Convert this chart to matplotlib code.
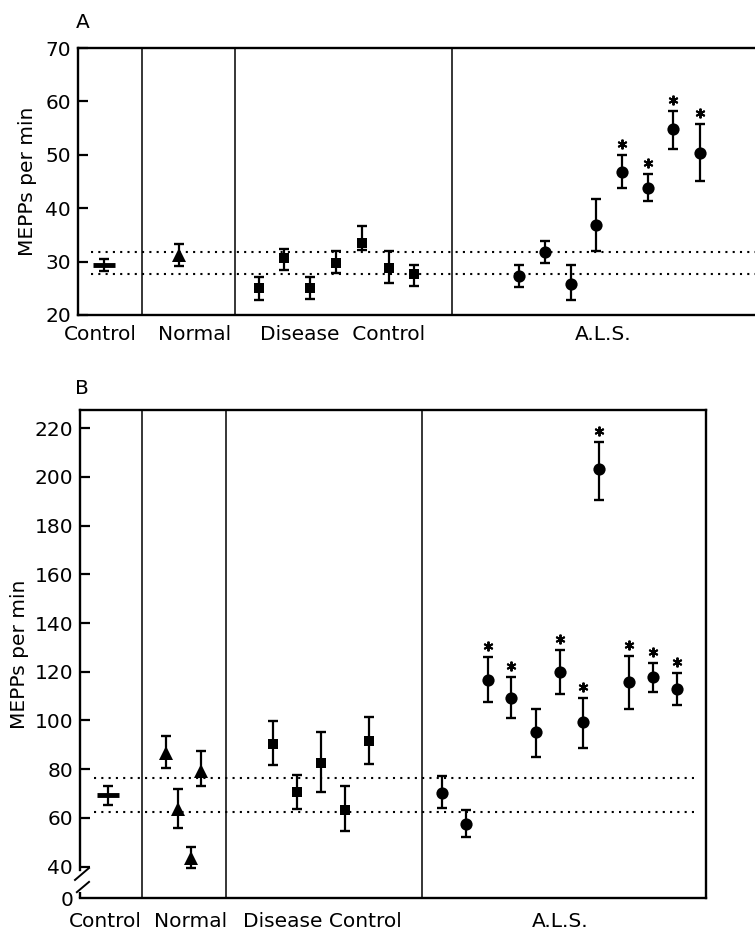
import matplotlib
matplotlib.use("Agg")
import matplotlib.pyplot as plt
import matplotlib.transforms as mtransforms

plt.rcParams['font.family'] = 'DejaVu Sans'

# ---- panel A values (mean, lower end of bar, upper end of bar) ----
a_ctrl_mean = [29.4]
a_ctrl_lo = [28.3]
a_ctrl_hi = [30.4]

a_norm_mean = [31.25]
a_norm_lo = [29.25]
a_norm_hi = [33.25]

a_dis_mean = [25.0, 30.6, 25.0, 29.8, 33.4, 28.75, 27.7]
a_dis_lo = [22.8, 28.4, 23.0, 27.8, 32.2, 25.9, 25.5]
a_dis_hi = [27.2, 32.4, 27.1, 31.9, 36.6, 31.9, 29.4]

a_als_mean = [27.3, 31.75, 25.8, 36.8, 46.8, 43.7, 54.8, 50.3]
a_als_lo = [25.3, 29.8, 22.9, 31.9, 43.8, 41.4, 51.0, 45.1]
a_als_hi = [29.4, 33.9, 29.4, 41.8, 50.0, 46.4, 58.25, 55.8]
a_als_sig = [0, 0, 0, 0, 1, 1, 1, 1]

a_band = [27.6, 31.8]

# ---- panel B values ----
b_ctrl_mean = [69.2]
b_ctrl_lo = [65.2]
b_ctrl_hi = [73.1]

b_norm_mean = [86.6, 63.6, 43.7, 79.4]
b_norm_lo = [80.6, 55.8, 39.6, 72.9]
b_norm_hi = [93.7, 71.9, 48.0, 87.5]

b_dis_mean = [90.4, 70.7, 82.7, 63.3, 91.7]
b_dis_lo = [81.8, 63.6, 70.7, 54.8, 82.2]
b_dis_hi = [99.8, 77.8, 95.2, 73.1, 101.6]

b_als_mean = [70.1, 57.4, 116.7, 109.1, 95.4, 119.8, 99.3, 203.2, 116.0, 117.8, 113.1]
b_als_lo = [64.0, 52.3, 107.7, 101.2, 85.2, 110.9, 88.9, 190.6, 104.7, 111.7, 106.5]
b_als_hi = [77.0, 63.3, 126.0, 118.0, 104.7, 129.0, 109.1, 214.5, 126.5, 123.5, 119.4]
b_als_sig = [0, 0, 1, 1, 0, 1, 1, 1, 1, 1, 1]

b_band = [62.3, 76.3]

groups_a = ['Control', 'Normal', 'Disease  Control', 'A.L.S.']
groups_b = ['Control', 'Normal', 'Disease Control', 'A.L.S.']

# x placement along each panel (0-100 scale)
a_ctrl_x = [3.8]
a_norm_x = [14.6]
a_dis_x = [26.2, 29.8, 33.5, 37.3, 41.0, 44.9, 48.6]
a_als_x = [63.7, 67.5, 71.2, 74.9, 78.6, 82.4, 86.0, 89.9]
a_div_x = [9.2, 22.7, 54.0]
a_lab_x = [3.2, 16.8, 38.3, 75.9]

b_ctrl_x = [4.4]
b_norm_x = [13.7, 15.6, 17.7, 19.4]
b_dis_x = [30.8, 34.7, 38.5, 42.3, 46.1]
b_als_x = [57.9, 61.7, 65.1, 68.9, 72.8, 76.6, 80.3, 82.9, 87.7, 91.6, 95.3]
b_div_x = [9.9, 23.4, 54.6]
b_lab_x = [4.0, 17.7, 38.7, 76.7]

FS = 14.5

fig = plt.figure(figsize=(7.55, 9.31), dpi=100)
axA = fig.add_axes([78/755, 1-315/931, (770-78)/755, 267/931])
axB = fig.add_axes([80/755, 1-898/931, (706-80)/755, 488/931])


def draw(ax, x, mean, lo, hi, marker, ms, mew=0):
    yerr = [[m - l for m, l in zip(mean, lo)], [h - m for m, h in zip(mean, hi)]]
    ax.errorbar(x, mean, yerr=yerr, fmt='none', ecolor='black',
                elinewidth=1.6, capsize=3.4, capthick=1.7, zorder=3)
    ax.plot(x, mean, linestyle='none', marker=marker, markersize=ms,
            color='black', markeredgewidth=mew, zorder=4)


def stars(ax, x, hi, sig):
    tr = mtransforms.offset_copy(ax.transData, fig=fig, y=8, units='points')
    for xi, hv, s in zip(x, hi, sig):
        if s:
            ax.plot(xi, hv, marker=(6, 2, 0), markersize=7, color='black',
                    markeredgewidth=1.4, transform=tr, zorder=4)


for ax, bands, dx, dend in [(axA, a_band, a_div_x, (1.9, 100)),
                            (axB, b_band, b_div_x, (2.2, 98.2))]:
    ax.set_xlim(0, 100)
    for xv in dx:
        ax.axvline(xv, color='black', linewidth=1.1, zorder=2)
    for yv in bands:
        ax.plot(dend, [yv, yv], color='black', linewidth=1.5,
                linestyle=(0, (1, 2.5)), zorder=1)
    for sp in ax.spines.values():
        sp.set_linewidth(1.7)
    ax.tick_params(axis='y', direction='in', length=7, width=1.6,
                   labelsize=FS, pad=5)
    ax.tick_params(axis='x', length=0, labelsize=FS)

# panel A
draw(axA, a_ctrl_x, a_ctrl_mean, a_ctrl_lo, a_ctrl_hi, '_', 16.5, 3.5)
draw(axA, a_norm_x, a_norm_mean, a_norm_lo, a_norm_hi, '^', 9.5)
draw(axA, a_dis_x, a_dis_mean, a_dis_lo, a_dis_hi, 's', 7.8)
draw(axA, a_als_x, a_als_mean, a_als_lo, a_als_hi, 'o', 8.8)
stars(axA, a_als_x, a_als_hi, a_als_sig)
axA.set_ylim(20, 70)
axA.set_yticks([20, 30, 40, 50, 60, 70])
axA.spines['right'].set_visible(False)
axA.set_xticks(a_lab_x, groups_a)
axA.tick_params(axis='x', pad=7)
axA.set_ylabel('MEPPs per min', fontsize=FS, labelpad=6)

# panel B
draw(axB, b_ctrl_x, b_ctrl_mean, b_ctrl_lo, b_ctrl_hi, '_', 16, 3.5)
draw(axB, b_norm_x, b_norm_mean, b_norm_lo, b_norm_hi, '^', 9.5)
draw(axB, b_dis_x, b_dis_mean, b_dis_lo, b_dis_hi, 's', 7.8)
draw(axB, b_als_x, b_als_mean, b_als_lo, b_als_hi, 'o', 8.8)
stars(axB, b_als_x, b_als_hi, b_als_sig)
ymin_b = 27.1
axB.set_ylim(ymin_b, 227.5)
axB.set_yticks([ymin_b] + list(range(40, 221, 20)),
               ['0'] + [str(v) for v in range(40, 221, 20)])
axB.yaxis.get_major_ticks()[0].tick1line.set_visible(False)
axB.set_xticks(b_lab_x, groups_b)
axB.tick_params(axis='x', pad=10)
axB.set_ylabel('MEPPs per min', fontsize=FS, labelpad=4)

# broken axis marks on B
axB.spines['left'].set_bounds(38.6, 227.5)
axB.plot([0, 0], [0, 0.013], transform=axB.transAxes, color='black',
         linewidth=1.7, clip_on=False, solid_capstyle='butt')
axB.plot([-0.008, 0.0144], [0.037, 0.0615], transform=axB.transAxes,
         color='black', linewidth=1.4, clip_on=False)
axB.plot([-0.005, 0.0144], [0.012, 0.033], transform=axB.transAxes,
         color='black', linewidth=1.4, clip_on=False)

fig.text(83/755, 1-23/931, 'A', fontsize=FS, ha='center', va='center')
fig.text(82/755, 1-388/931, 'B', fontsize=FS, ha='center', va='center')

fig.savefig('out.png', dpi=100)
